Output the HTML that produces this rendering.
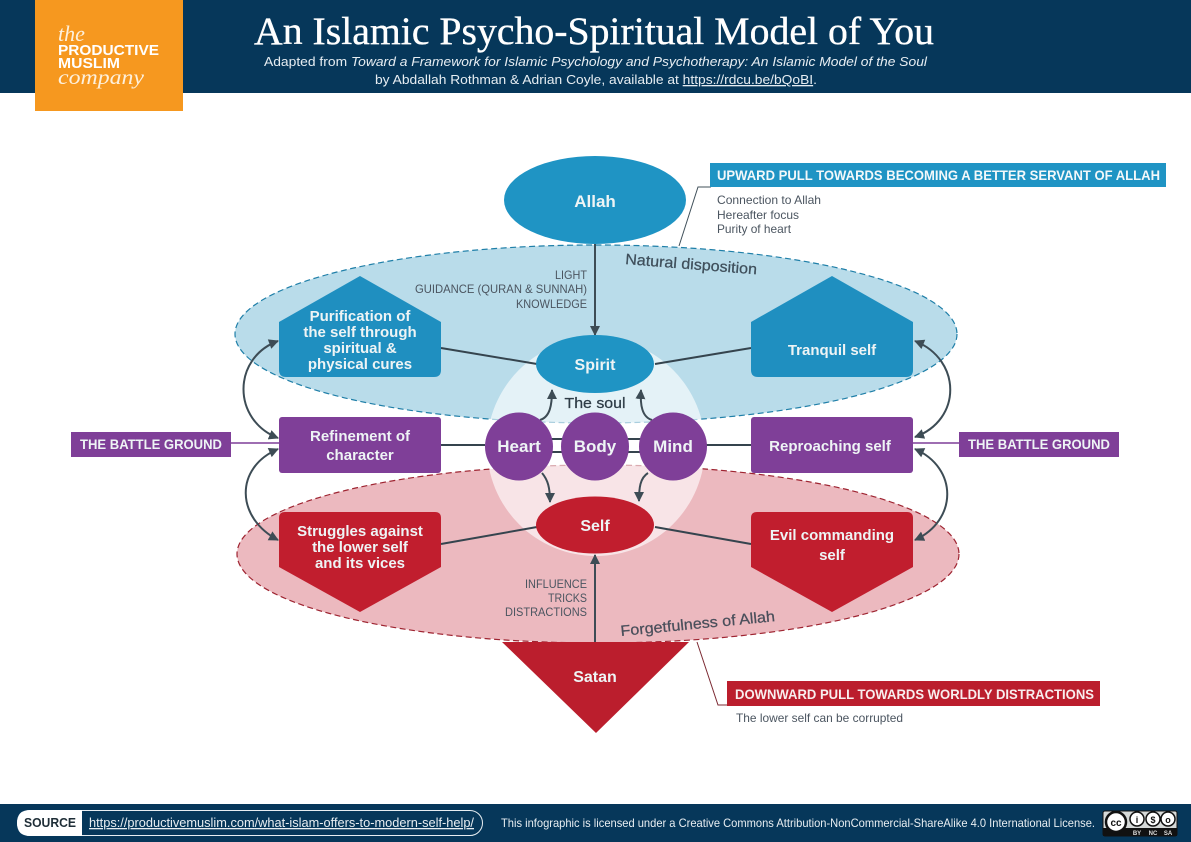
<!DOCTYPE html>
<html><head><meta charset="utf-8"><style>
html,body{margin:0;padding:0;background:#fff}
svg{display:block}
text{font-family:"Liberation Sans",sans-serif}
.w{fill:#eef4f5;font-weight:bold;font-size:15px;text-anchor:middle}
.g{fill:#4b5560;font-size:12px}
.l{stroke:#35444e;stroke-width:2;fill:none}
.a{stroke:#3d4c55;stroke-width:2;fill:none;marker-end:url(#m)}
.s{stroke:#3d4c55;stroke-width:2;fill:none;marker-start:url(#ms);marker-end:url(#m)}
</style></head><body>
<svg width="1191" height="842" viewBox="0 0 1191 842" xmlns="http://www.w3.org/2000/svg">
<defs>
<marker id="m" markerUnits="userSpaceOnUse" markerWidth="14" markerHeight="14" refX="9" refY="5" orient="auto"><path d="M0 0L10 5L0 10z" fill="#3d4c55"/></marker>
<marker id="ms" markerUnits="userSpaceOnUse" markerWidth="14" markerHeight="14" refX="1" refY="5" orient="auto"><path d="M10 0L0 5L10 10z" fill="#3d4c55"/></marker>
</defs>
<rect width="1191" height="842" fill="#fff"/>
<!-- header -->
<rect width="1191" height="93" fill="#06375a"/>
<rect x="35" width="148" height="111" fill="#f6981f"/>
<text x="58" y="41" style="font-family:'Liberation Serif',serif;font-style:italic;font-size:22px" fill="#fdf0dc">the</text>
<text x="58" y="55" font-size="15" font-weight="bold" fill="#fff" textLength="101" lengthAdjust="spacingAndGlyphs">PRODUCTIVE</text>
<text x="58" y="68" font-size="15" font-weight="bold" fill="#fff" textLength="62" lengthAdjust="spacingAndGlyphs">MUSLIM</text>
<text x="58" y="84" style="font-family:'Liberation Serif',serif;font-style:italic;font-size:21px" fill="#fdf0dc" textLength="86" lengthAdjust="spacingAndGlyphs">company</text>
<text x="254" y="44" style="font-family:'Liberation Serif',serif;font-size:39px" fill="#fff" stroke="#fff" stroke-width=".35" textLength="680" lengthAdjust="spacingAndGlyphs">An Islamic Psycho-Spiritual Model of You</text>
<text x="264" y="66" font-size="13" fill="#e6edf2" textLength="663" lengthAdjust="spacingAndGlyphs">Adapted from <tspan font-style="italic">Toward a Framework for Islamic Psychology and Psychotherapy: An Islamic Model of the Soul</tspan></text>
<text x="375" y="84" font-size="13" fill="#e6edf2" textLength="442" lengthAdjust="spacingAndGlyphs">by Abdallah Rothman &amp; Adrian Coyle, available at <tspan text-decoration="underline">https://rdcu.be/bQoBI</tspan>.</text>

<!-- big ellipses -->
<ellipse cx="596" cy="334" rx="361" ry="89" fill="#b9dcea" stroke="#1f7fa8" stroke-width="1.2" stroke-dasharray="6 3.500"/>
<ellipse cx="598" cy="554" rx="361" ry="89" fill="#ecb9bf" stroke="#9e2431" stroke-width="1.2" stroke-dasharray="6 3.500"/>
<circle cx="596" cy="447" r="109" fill="#fff" fill-opacity=".62"/>

<!-- connectors -->
<path class="l" d="M441 348L537 364M655 364L751 348M441 445H485M530 439H565M530 452H565M625 439H660M625 452H660M705 445H751M441 544L537 527M655 527L751 544"/>
<path class="a" d="M595 244V335"/>
<path class="a" d="M595 645V555"/>
<path stroke="#7f3f98" stroke-width="1.5" d="M231 443H279M913 443H959"/>
<path fill="none" stroke="#40505a" stroke-width="1" d="M711 187H698L679 246"/>
<path fill="none" stroke="#7c2a33" stroke-width="1" d="M697 642L718 705H735"/>

<!-- side arrows -->
<path class="s" d="M278 341C232 358 232 420 278 438"/>
<path class="s" d="M278 449C234 468 236 518 278 540"/>
<path class="s" d="M915 341C962 360 962 420 915 437"/>
<path class="s" d="M915 449C958 468 958 520 915 540"/>
<!-- soul arrows -->
<path class="a" d="M540 420C550 417 552 405 552 390"/>
<path class="a" d="M652 420C642 417 640 405 641 390"/>
<path class="a" d="M542 473C548 480 550 488 550 502"/>
<path class="a" d="M648 473C640 478 639 488 639 501"/>

<!-- nodes -->
<ellipse cx="595" cy="200" rx="91" ry="44" fill="#1f94c4"/>
<ellipse cx="595" cy="364" rx="59" ry="29" fill="#1f94c4"/>
<ellipse cx="595" cy="525" rx="59" ry="28.500" fill="#c11e2e"/>
<circle cx="519" cy="446.500" r="34" fill="#7f3f98"/>
<circle cx="595" cy="446.500" r="34" fill="#7f3f98"/>
<circle cx="673" cy="446.500" r="34" fill="#7f3f98"/>
<path d="M279 322L360 276L441 322V370Q441 377 434 377H286Q279 377 279 370Z" fill="#1f8fc0"/>
<path d="M751 322L832 276L913 322V370Q913 377 906 377H758Q751 377 751 370Z" fill="#1f8fc0"/>
<rect x="279" y="417" width="162" height="56" rx="3" fill="#7f3f98"/>
<rect x="751" y="417" width="162" height="56" rx="3" fill="#7f3f98"/>
<path d="M279 518Q279 512 285 512H435Q441 512 441 518V567L360 612L279 567Z" fill="#c11e2e"/>
<path d="M751 518Q751 512 757 512H907Q913 512 913 518V567L832 612L751 567Z" fill="#c11e2e"/>
<path d="M502 642H689L596 733Z" fill="#bb1e2d"/>

<!-- node text -->
<text class="w" x="595" y="207" style="font-size:17px">Allah</text>
<text class="w" x="595" y="370" style="font-size:16px">Spirit</text>
<text class="w" x="595" y="531" style="font-size:16px">Self</text>
<text class="w" x="519" y="452" style="font-size:17px">Heart</text>
<text class="w" x="595" y="452" style="font-size:17px">Body</text>
<text class="w" x="673" y="452" style="font-size:17px">Mind</text>
<text x="595" y="408" font-size="14.500" fill="#2f3d47" stroke="#2f3d47" stroke-width=".25" text-anchor="middle" textLength="61" lengthAdjust="spacingAndGlyphs">The soul</text>
<text class="w" x="360" y="321">Purification of</text>
<text class="w" x="360" y="337">the self through</text>
<text class="w" x="360" y="353">spiritual &amp;</text>
<text class="w" x="360" y="369">physical cures</text>
<text class="w" x="832" y="355">Tranquil self</text>
<text class="w" x="360" y="441">Refinement of</text>
<text class="w" x="360" y="460">character</text>
<text class="w" x="830" y="451">Reproaching self</text>
<text class="w" x="360" y="536">Struggles against</text>
<text class="w" x="360" y="552">the lower self</text>
<text class="w" x="360" y="568">and its vices</text>
<text class="w" x="832" y="540">Evil commanding</text>
<text class="w" x="832" y="560">self</text>
<text class="w" x="595" y="682" style="font-size:16px">Satan</text>

<!-- arrow labels -->
<g class="g" text-anchor="end">
<text x="587" y="279" textLength="32" lengthAdjust="spacingAndGlyphs">LIGHT</text>
<text x="587" y="293" textLength="172" lengthAdjust="spacingAndGlyphs">GUIDANCE (QURAN &amp; SUNNAH)</text>
<text x="587" y="308" textLength="71" lengthAdjust="spacingAndGlyphs">KNOWLEDGE</text>
<text x="587" y="588" textLength="62" lengthAdjust="spacingAndGlyphs">INFLUENCE</text>
<text x="587" y="602" textLength="39" lengthAdjust="spacingAndGlyphs">TRICKS</text>
<text x="587" y="616" textLength="82" lengthAdjust="spacingAndGlyphs">DISTRACTIONS</text>
</g>
<text transform="translate(625 264) rotate(4.500)" font-size="15" fill="#3f4f5b" stroke="#3f4f5b" stroke-width=".25" textLength="132" lengthAdjust="spacingAndGlyphs">Natural disposition</text>
<text transform="translate(621 636) rotate(-5.500)" font-size="15" fill="#4a4f5b" stroke="#4a4f5b" stroke-width=".25" textLength="155" lengthAdjust="spacingAndGlyphs">Forgetfulness of Allah</text>

<!-- tags -->
<rect x="71" y="432" width="160" height="25" fill="#7f3f98"/>
<text class="w" x="151" y="449" style="font-size:14px" textLength="142" lengthAdjust="spacingAndGlyphs">THE BATTLE GROUND</text>
<rect x="959" y="432" width="160" height="25" fill="#7f3f98"/>
<text class="w" x="1039" y="449" style="font-size:14px" textLength="142" lengthAdjust="spacingAndGlyphs">THE BATTLE GROUND</text>
<rect x="710" y="163" width="456" height="24" fill="#1f94c4"/>
<text x="717" y="180" font-size="14" font-weight="bold" fill="#f3f8fa" textLength="443" lengthAdjust="spacingAndGlyphs">UPWARD PULL TOWARDS BECOMING A BETTER SERVANT OF ALLAH</text>
<text class="g" x="717" y="204" textLength="104" lengthAdjust="spacingAndGlyphs">Connection to Allah</text>
<text class="g" x="717" y="219" textLength="82" lengthAdjust="spacingAndGlyphs">Hereafter focus</text>
<text class="g" x="717" y="233" textLength="74" lengthAdjust="spacingAndGlyphs">Purity of heart</text>
<rect x="727" y="681" width="373" height="25" fill="#bb1e2d"/>
<text x="735" y="699" font-size="14" font-weight="bold" fill="#f8eeee" textLength="359" lengthAdjust="spacingAndGlyphs">DOWNWARD PULL TOWARDS WORLDLY DISTRACTIONS</text>
<text class="g" x="736" y="722" textLength="167" lengthAdjust="spacingAndGlyphs">The lower self can be corrupted</text>

<!-- footer -->
<rect y="804" width="1191" height="38" fill="#06375a"/>
<rect x="17.500" y="810.500" width="465" height="25" rx="12.500" fill="#06375a" stroke="#e8eef2"/>
<path d="M82 810H30Q17 810 17 823Q17 836 30 836H82Z" fill="#fff"/>
<text x="24" y="827" font-size="13" font-weight="bold" fill="#1e2d36" textLength="52" lengthAdjust="spacingAndGlyphs">SOURCE</text>
<text x="89" y="827" font-size="13" fill="#e8eef2" text-decoration="underline" textLength="385" lengthAdjust="spacingAndGlyphs">https://productivemuslim.com/what-islam-offers-to-modern-self-help/</text>
<text x="501" y="827" font-size="12" fill="#e8eef2" textLength="594" lengthAdjust="spacingAndGlyphs">This infographic is licensed under a Creative Commons Attribution-NonCommercial-ShareAlike 4.0 International License.</text>
<rect x="1103" y="811" width="74" height="25" rx="2" fill="#d6d9d8" stroke="#111"/>
<rect x="1103" y="828" width="74" height="8" fill="#111"/>
<circle cx="1116" cy="822" r="10" fill="#fff" stroke="#111" stroke-width="2.500"/>
<text x="1116" y="826" font-size="10" font-weight="bold" fill="#111" text-anchor="middle">cc</text>
<g fill="#fff" stroke="#111" stroke-width="1.500"><circle cx="1137" cy="819" r="7"/><circle cx="1153" cy="819" r="7"/><circle cx="1168" cy="819" r="7"/></g>
<text x="1137" y="823" font-size="9" font-weight="bold" fill="#111" text-anchor="middle">i</text>
<text x="1153" y="823" font-size="9" font-weight="bold" fill="#111" text-anchor="middle">$</text>
<text x="1168" y="823" font-size="9" font-weight="bold" fill="#111" text-anchor="middle">o</text>
<text x="1137" y="835" font-size="6" font-weight="bold" fill="#ddd" text-anchor="middle">BY</text>
<text x="1153" y="835" font-size="6" font-weight="bold" fill="#ddd" text-anchor="middle">NC</text>
<text x="1168" y="835" font-size="6" font-weight="bold" fill="#ddd" text-anchor="middle">SA</text>
</svg>
</body></html>
